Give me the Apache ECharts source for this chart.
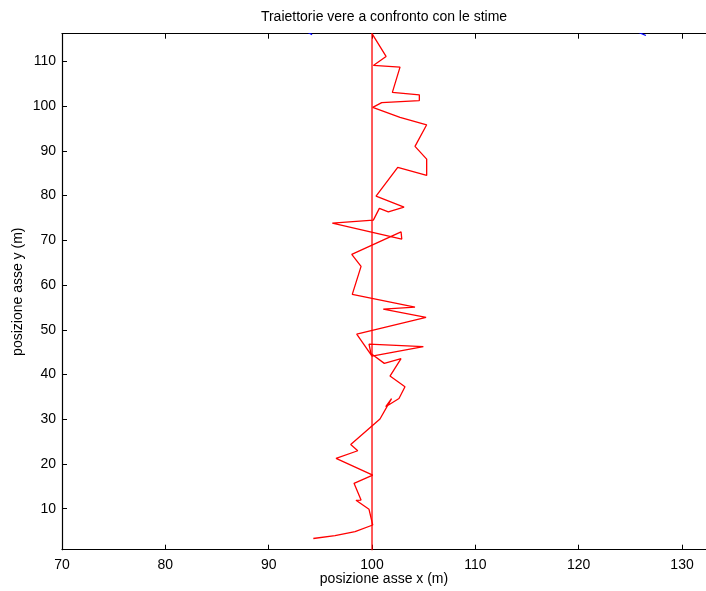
<!DOCTYPE html>
<html>
<head>
<meta charset="utf-8">
<title>Traiettorie</title>
<script src="https://cdn.jsdelivr.net/npm/echarts@6/dist/echarts.min.js"></script>
<style>
  html, body { margin: 0; padding: 0; background: #fff; }
  #chart { width: 706px; height: 591px; }
</style>
</head>
<body>
<div id="chart"></div>
<script>
// Estimated trajectory (red zig-zag), in metres
const estimateX = [94.32, 96.42, 98.36, 100.07, 99.71, 98.45, 98.94, 98.26, 100.07, 96.52,
  98.62, 97.94, 100.77, 101.89, 101.33, 102.61, 103.19, 101.74, 102.81, 101.19,
  99.90, 99.71, 104.97, 100.00, 98.52, 105.23, 101.09, 104.16, 98.09, 98.94,
  98.04, 102.81, 102.88, 96.16, 100.13, 100.71, 101.58, 103.10, 100.39, 102.49,
  105.29, 105.29, 104.16, 105.29, 102.71, 100.07, 100.94, 104.58, 104.58, 101.97,
  102.71, 100.13, 101.36, 100.03];
const estimateY = [3.34, 4.01, 4.90, 6.36, 9.87, 11.88, 11.94, 15.68, 17.53, 21.27,
  22.96, 24.35, 30.05, 34.63, 32.80, 34.63, 37.27, 39.66, 43.57, 42.50,
  44.69, 46.81, 46.25, 44.13, 49.05, 52.78, 54.64, 55.08, 57.92, 64.18,
  66.86, 71.91, 70.28, 73.86, 74.53, 77.14, 76.38, 77.43, 79.89, 86.31,
  84.52, 88.16, 91.00, 95.83, 97.48, 99.72, 100.79, 101.24, 102.53, 103.07,
  108.73, 109.11, 111.12, 116.10];

// True trajectory (straight vertical line at x = 100)
const trueX = [100, 100];
const trueY = [0, 120];

// Other targets just entering across the top edge (blue)
const otherAX = [93.8, 94.2];
const otherAY = [116.5, 116.0];
const otherBX = [125.7, 126.5];
const otherBY = [116.6, 115.8];

// Axis ticks
const xTicks = [70, 80, 90, 100, 110, 120, 130];
const yTicks = [10, 20, 30, 40, 50, 60, 70, 80, 90, 100, 110];

const zip = (xs, ys) => xs.map((x, i) => [x, ys[i]]);

const FONT = '"Liberation Sans", Arial, Helvetica, sans-serif';
const X_MIN = 70, X_MAX = 132.32, Y_MIN = 0.84, Y_MAX = 116.2;

const chart = echarts.init(document.getElementById('chart'), null, { renderer: 'canvas' });

const lineSeries = (data, color, xIdx) => ({
  type: 'line',
  xAxisIndex: xIdx || 0,
  data: data,
  showSymbol: false,
  symbol: 'none',
  smooth: false,
  clip: true,
  animation: false,
  silent: true,
  lineStyle: { color: color, width: 1.3 }
});

chart.setOption({
  animation: false,
  backgroundColor: '#ffffff',
  textStyle: { fontFamily: FONT },
  graphic: [{
    type: 'text',
    x: 384,
    y: 17,
    style: {
      text: 'Traiettorie vere a confronto con le stime',
      fill: '#000',
      font: '14px ' + FONT,
      textAlign: 'center',
      textVerticalAlign: 'middle'
    }
  }],
  grid: {
    left: 62, top: 33.7, right: 0, bottom: 41.3,
    containLabel: false,
    outerBoundsMode: 'none'
  },
  xAxis: [{
    type: 'value',
    position: 'bottom',
    min: X_MIN,
    max: X_MAX,
    name: 'posizione asse x (m)',
    nameLocation: 'middle',
    nameGap: 22,
    nameMoveOverlap: false,
    nameTextStyle: { color: '#000', fontSize: 14, fontFamily: FONT, verticalAlign: 'top' },
    splitLine: { show: false },
    axisLine: { show: true, onZero: false, lineStyle: { color: '#000', width: 1.2 } },
    axisTick: { show: true, inside: true, length: 5, customValues: xTicks, lineStyle: { color: '#000' } },
    axisLabel: { show: true, customValues: xTicks, margin: 8, color: '#000', fontSize: 14, fontFamily: FONT }
  }, {
    type: 'value',
    position: 'top',
    min: X_MIN,
    max: X_MAX,
    splitLine: { show: false },
    axisLine: { show: true, onZero: false, lineStyle: { color: '#000', width: 1.2 } },
    axisTick: { show: true, inside: true, length: 5, customValues: xTicks, lineStyle: { color: '#000' } },
    axisLabel: { show: false }
  }],
  yAxis: {
    type: 'value',
    min: Y_MIN,
    max: Y_MAX,
    name: 'posizione asse y (m)',
    nameLocation: 'middle',
    nameGap: 37,
    nameMoveOverlap: false,
    nameTextStyle: { color: '#000', fontSize: 14, fontFamily: FONT },
    splitLine: { show: false },
    axisLine: { show: true, onZero: false, lineStyle: { color: '#000', width: 1.2 } },
    axisTick: { show: true, inside: true, length: 5, customValues: yTicks, lineStyle: { color: '#000' } },
    axisLabel: { show: true, customValues: yTicks, margin: 6, color: '#000', fontSize: 14, fontFamily: FONT }
  },
  series: [
    lineSeries(zip(otherAX, otherAY), '#0000ff'),
    lineSeries(zip(otherBX, otherBY), '#0000ff'),
    lineSeries(zip(trueX, trueY), '#ff0000'),
    lineSeries(zip(estimateX, estimateY), '#ff0000')
  ]
});
</script>
</body>
</html>
